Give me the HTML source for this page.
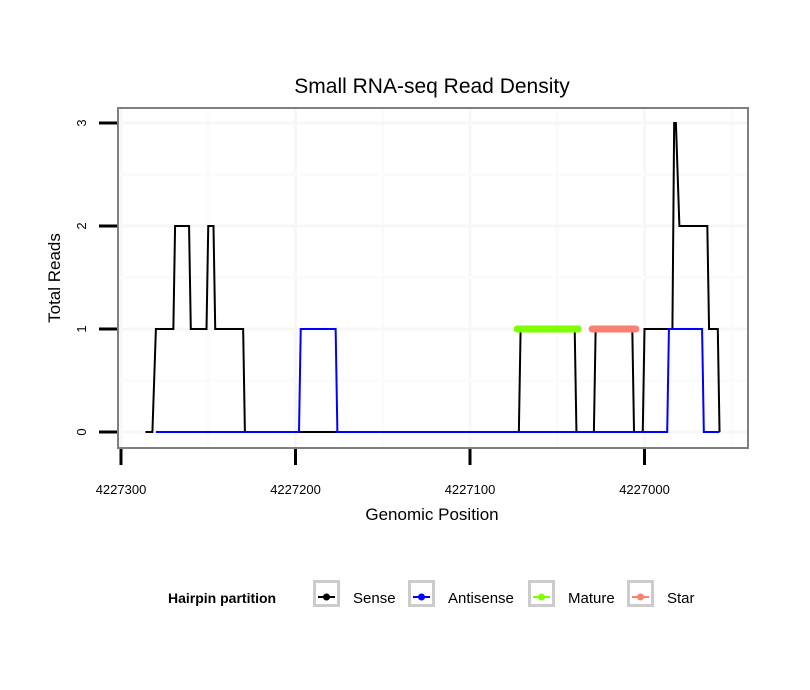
<!DOCTYPE html>
<html><head><meta charset="utf-8"><style>
body{margin:0;background:#fff;}
svg{display:block;font-family:"Liberation Sans",sans-serif;}
</style></head><body>
<svg id="chart" width="810" height="690">
<text x="432" y="93" font-size="21" text-anchor="middle">Small RNA-seq Read Density</text>
<g id="grid"></g>
<g id="series"></g>
<rect x="118" y="108" width="630" height="340" fill="none" stroke="#7f7f7f" stroke-width="2"/>
<g id="axes"></g>
<text x="432" y="520" font-size="17" text-anchor="middle">Genomic Position</text>
<text transform="translate(60,278) rotate(-90)" font-size="17" text-anchor="middle">Total Reads</text>
<g>
<text x="168" y="603" font-size="14" font-weight="bold">Hairpin partition</text>
<g id="legend"></g>
</g>
</svg>
<script>
const xTicks=[4227300,4227200,4227100,4227000];
const yTicks=[0,1,2,3];
const senseX=[4227286,4227282,4227280,4227270,4227269,4227261,4227260,4227251,4227250,4227247,4227246,4227230,4227229,4227072,4227071,4227040,4227039,4227029,4227028,4227007,4227006,4227001,4227000,4226984,4226983,4226982,4226980,4226964,4226963,4226958,4226957];
const senseY=[0,0,1,1,2,2,1,1,2,2,1,1,0,0,1,1,0,0,1,1,0,0,1,1,3,3,2,2,1,1,0];
const antiX=[4227280,4227198,4227197,4227177,4227176,4226987,4226986,4226967,4226966,4226957];
const antiY=[0,0,1,1,0,0,1,1,0,0];
const matureRange=[4227073,4227038];
const starRange=[4227030,4227005];
const legendLabels=["Sense","Antisense","Mature","Star"];
const legendColors=["#000000","#0000ff","#7fff00","#fa8072"];

const NS="http://www.w3.org/2000/svg";
function X(p){return 121+(4227300-p)*1.745;}
function Y(v){return 432-v*103;}
function mk(tag,attrs,parent){const e=document.createElementNS(NS,tag);for(const k in attrs)e.setAttribute(k,attrs[k]);parent.appendChild(e);return e;}
const grid=document.getElementById('grid'),series=document.getElementById('series'),axes=document.getElementById('axes'),legend=document.getElementById('legend');
for(let i=0;i<xTicks.length;i++){
  const x=X(xTicks[i]);
  if(x>119){const g=mk('line',{x1:x,x2:x,y1:109,y2:447,stroke:'#f7f7f7','stroke-width':3},grid);
  
  }
  const xm=X(xTicks[i]-50);
  if(xm<747){const g2=mk('line',{x1:xm,x2:xm,y1:109,y2:447,stroke:'#fbfbfb','stroke-width':3},grid);
  
  }
}
for(let i=0;i<yTicks.length;i++){
  const g=mk('line',{x1:119,x2:747,y1:Y(yTicks[i]),y2:Y(yTicks[i]),stroke:'#f7f7f7','stroke-width':3},grid);
  
  
  const ym=Y(yTicks[i]+0.5);
  if(ym>109){const g2=mk('line',{x1:119,x2:747,y1:ym,y2:ym,stroke:'#fbfbfb','stroke-width':3},grid);
  
  }
}
function pts(xs,ys){return xs.map((p,i)=>X(p)+','+Y(ys[i])).join(' ');}
const s=mk('polyline',{points:pts(senseX,senseY),fill:'none',stroke:'#000','stroke-width':2},series);


const a=mk('polyline',{points:pts(antiX,antiY),fill:'none',stroke:'#0000ff','stroke-width':2},series);


const m=mk('line',{x1:X(matureRange[0]),x2:X(matureRange[1]),y1:Y(1),y2:Y(1),stroke:'#7fff00','stroke-width':7,'stroke-linecap':'round'},series);


const st=mk('line',{x1:X(starRange[0]),x2:X(starRange[1]),y1:Y(1),y2:Y(1),stroke:'#fa8072','stroke-width':7,'stroke-linecap':'round'},series);


for(let i=0;i<yTicks.length;i++){
  const y=Y(yTicks[i]);
  const t=mk('line',{x1:99,x2:117,y1:y,y2:y,stroke:'#000','stroke-width':3},axes);
  
  
  const l=mk('text',{transform:`translate(86,${y}) rotate(-90)`,'font-size':13,'text-anchor':'middle'},axes);
  l.textContent=yTicks[i];
  
  
}
for(let i=0;i<xTicks.length;i++){
  const x=X(xTicks[i]);
  const t=mk('line',{x1:x,x2:x,y1:449,y2:465,stroke:'#000','stroke-width':3},axes);
  
  
  const l=mk('text',{x:x,y:494,'font-size':13,'text-anchor':'middle'},axes);
  l.textContent=xTicks[i];
  
  
}
const boxX=[313,408,528,627];
for(let i=0;i<legendLabels.length;i++){
  const bx=boxX[i];
  const r=mk('rect',{x:bx+1.5,y:581.5,width:24,height:24,fill:'#fff',stroke:'#cccccc','stroke-width':3},legend);
  
  
  mk('line',{x1:bx+5,x2:bx+22,y1:597,y2:597,stroke:legendColors[i],'stroke-width':2},legend);
  mk('circle',{cx:bx+13.5,cy:597,r:3.5,fill:legendColors[i]},legend);
  const t=mk('text',{x:bx+40,y:603,'font-size':15},legend);
  t.textContent=legendLabels[i];
  
  
}
</script>
</body></html>
